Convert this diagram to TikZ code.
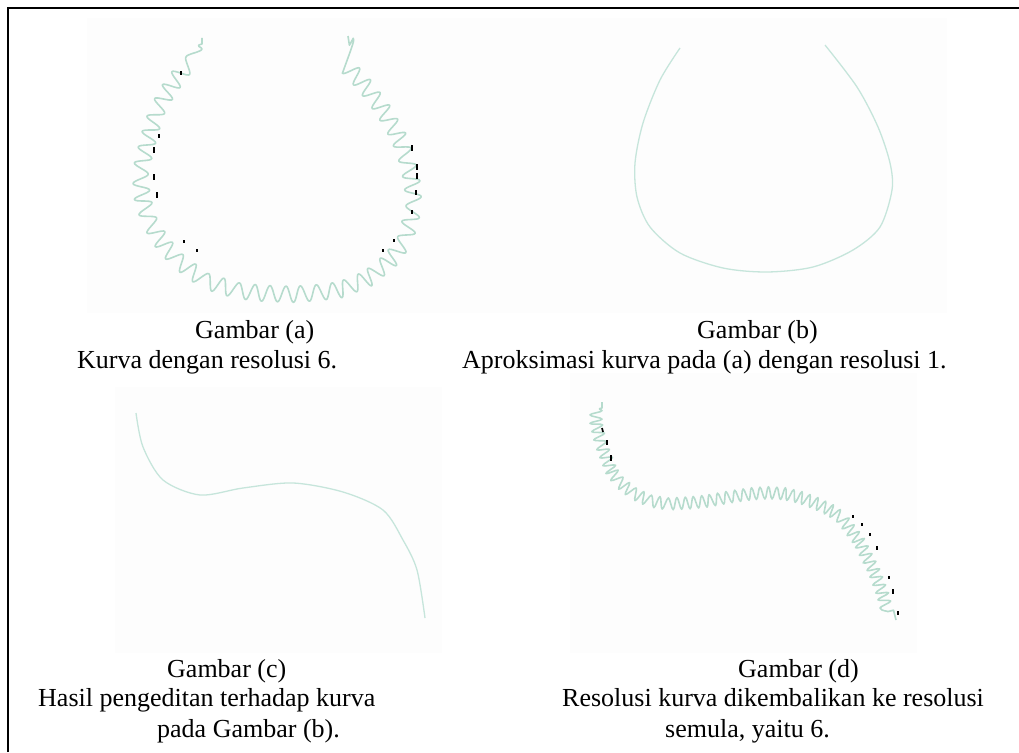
\documentclass[tikz,border=0pt]{standalone}
\usepackage{fontspec}
\setmainfont{Liberation Serif}
\usetikzlibrary{decorations.pathmorphing}
\definecolor{curvegreen}{RGB}{182,219,205}
\definecolor{smoothgreen}{RGB}{198,229,219}
\definecolor{imgbg}{RGB}{253,253,253}
\newcommand{\jagwidth}{1.6pt}
\newcommand{\smoothwidth}{1.3pt}

\begin{document}
\begin{tikzpicture}[x=1pt,y=-1pt,
  captext/.style={anchor=base west,inner sep=0pt,font=\fontsize{26}{30}\selectfont},
  smoothcurve/.style={draw=smoothgreen,line width=\smoothwidth},
  jagged/.style 2 args={draw=curvegreen,line width=\jagwidth,line join=round,
    decorate,decoration={snake,segment length=#1,amplitude=#2,raise=-#2,pre length=6pt,post length=6pt}},
  speck/.style={black,line width=1.7pt}]
\useasboundingbox (0,0) rectangle (1019,752);
% frame
\draw[line width=2.4pt] (8,752) -- (8,8) -- (1019,8);
% picture backgrounds
\fill[imgbg] (87,18) rectangle (500,313);
\fill[imgbg] (500,18) rectangle (947,313);
\fill[imgbg] (115,387) rectangle (442,653);
\fill[imgbg] (570,373) rectangle (917,653);
%(a)
\draw[jagged={16pt}{8pt}] plot coordinates {
  (202,38) (202,50) (193,57) (180,75) (167,98) (160,120) (155,140) (150,162)
  (152,185) (158,205) (170,225) (187,245) (210,262) (240,271) (268,274) (297,275)
  (325,273) (350,270) (380,258) (402,240) (418,218) (425,192) (423,168) (417,143)
  (408,118) (393,92) (375,68) (358,50) (349,45) (348,36)};
\draw[speck] (181,71) -- ++(0,4);
\draw[speck] (159,134) -- ++(0,4);
\draw[speck] (154,147) -- ++(0,6);
\draw[speck] (154,174) -- ++(0,6);
\draw[speck] (157,192) -- ++(0,6);
\draw[speck] (184,240) -- ++(0,3);
\draw[speck] (197,249) -- ++(0,3);
\draw[speck] (412,145) -- ++(0,6);
\draw[speck] (417,164) -- ++(0,6);
\draw[speck] (417,173) -- ++(0,6);
\draw[speck] (416,190) -- ++(0,5);
\draw[speck] (412,210) -- ++(0,4);
\draw[speck] (394,239) -- ++(0,3);
\draw[speck] (383,249) -- ++(0,3);
%(b)
\draw[smoothcurve] plot[smooth] coordinates {
  (680,48) (660,80) (643,123) (635,163) (637,197) (650,227) (680,253)
  (723,268) (767,272) (813,267) (853,250) (880,227) (892,190) (890,163)
  (878,127) (857,87) (825,45)};
%(c)
\draw[smoothcurve] plot[smooth] coordinates {
  (136,413) (143,447) (163,480) (200,495) (243,488) (293,483) (343,492)
  (383,510) (403,540) (417,570) (425,618)};
%(d)
\draw[jagged={8.5pt}{6pt}] plot coordinates {
  (602,402) (602,420) (607,442) (617,468) (626,481) (637,490) (652,497) (670,500)
  (690,499) (710,497) (732,493) (753,490) (770,489) (787,490) (804,494) (820,500)
  (835,507) (848,516) (866,540) (880,568) (889,592) (896,620)};
\draw[speck] (602,428) -- ++(1,4);
\draw[speck] (607,440) -- ++(0,5);
\draw[speck] (611,455) -- ++(0,6);
\draw[speck] (853,515) -- ++(0,3);
\draw[speck] (862,523) -- ++(0,3);
\draw[speck] (870,533) -- ++(0,3);
\draw[speck] (877,546) -- ++(0,4);
\draw[speck] (889,576) -- ++(0,3);
\draw[speck] (893,589) -- ++(0,5);
\draw[speck] (898,611) -- ++(0,4);
% captions
\node[captext] (ga) at (195,338) {Gambar (a)};
\node[captext] (ka) at (77,368) {Kurva dengan resolusi 6.};
\node[captext] (gb) at (697,338) {Gambar (b)};
\node[captext] (kb) at (462,368) {Aproksimasi kurva pada (a) dengan resolusi 1.};
\node[captext] (gc) at (167,677) {Gambar (c)};
\node[captext] (kc1) at (38,706) {Hasil pengeditan terhadap kurva};
\node[captext] (kc2) at (157,737) {pada Gambar (b).};
\node[captext] (gd) at (738,677) {Gambar (d)};
\node[captext] (kd1) at (562,706) {Resolusi kurva dikembalikan ke resolusi};
\node[captext] (kd2) at (665,737) {semula, yaitu 6.};
\end{tikzpicture}
\end{document}
